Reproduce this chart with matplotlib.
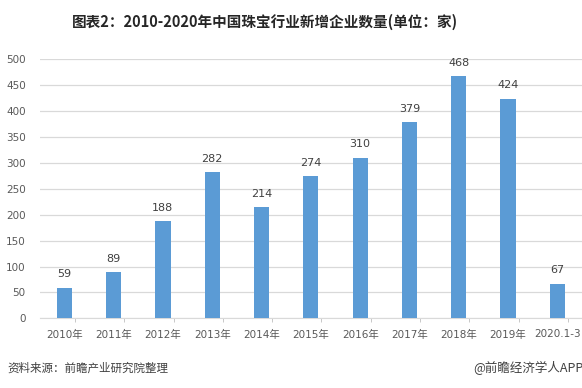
import matplotlib
matplotlib.use("Agg")
import matplotlib.pyplot as plt
import numpy as np

# données du graphique
annees = ["2010年", "2011年", "2012年", "2013年", "2014年", "2015年",
          "2016年", "2017年", "2018年", "2019年", "2020.1-3"]
nouvelles_entreprises = [59, 89, 188, 282, 214, 274, 310, 379, 468, 424, 67]
graduations_y = [0, 50, 100, 150, 200, 250, 300, 350, 400, 450, 500]

plt.rcParams['font.family'] = ['DejaVu Sans', 'Noto Sans CJK SC']

fig = plt.figure(figsize=(5.82, 3.88), dpi=100)
ax = fig.add_axes([0.0682, 0.1796, 0.9318, 0.6676])

x = np.arange(len(annees))
barres = ax.bar(x, nouvelles_entreprises, width=0.31, color="#5b9bd5", zorder=3)

for xi, v in zip(x, nouvelles_entreprises):
    ax.annotate(str(v), (xi, v), xytext=(0, 6), textcoords="offset points",
                ha="center", va="bottom", fontsize=8, color="#404040")

ax.set_xlim(-0.5, len(annees) - 0.5)
ax.set_ylim(0, 500)
ax.set_yticks(graduations_y)
ax.set_xticks(x)
ax.set_xticklabels(annees)
ax.tick_params(axis="y", length=0, labelsize=7.5, labelcolor="#595959", pad=10)
ax.tick_params(axis="x", length=0, labelsize=7.5, labelcolor="#595959", pad=8)

# petits repères décalés sous l'axe
ax.set_xticks(x + 0.215, minor=True)
ax.tick_params(axis="x", which="minor", length=3, color="#bfbfbf")

ax.grid(axis="y", color="#d9d9d9", linewidth=0.9, zorder=0)
for s in ["top", "right", "left"]:
    ax.spines[s].set_visible(False)
ax.spines["bottom"].set_color("#d9d9d9")

fig.text(0.455, 0.943, "图表2：2010-2020年中国珠宝行业新增企业数量(单位：家)",
         ha="center", va="center", fontsize=10.5, fontweight="bold",
         color="#262626", family=['Noto Sans CJK SC', 'DejaVu Sans'])
fig.text(0.012, 0.052, "资料来源：前瞻产业研究院整理", ha="left", va="center",
         fontsize=8.3, color="#404040", family=['Noto Sans CJK SC', 'DejaVu Sans'])
fig.text(0.813, 0.052, "@前瞻经济学人APP", ha="left", va="center",
         fontsize=9, color="#404040", family=['Noto Sans CJK SC', 'DejaVu Sans'])

fig.savefig("out.png", dpi=100)
